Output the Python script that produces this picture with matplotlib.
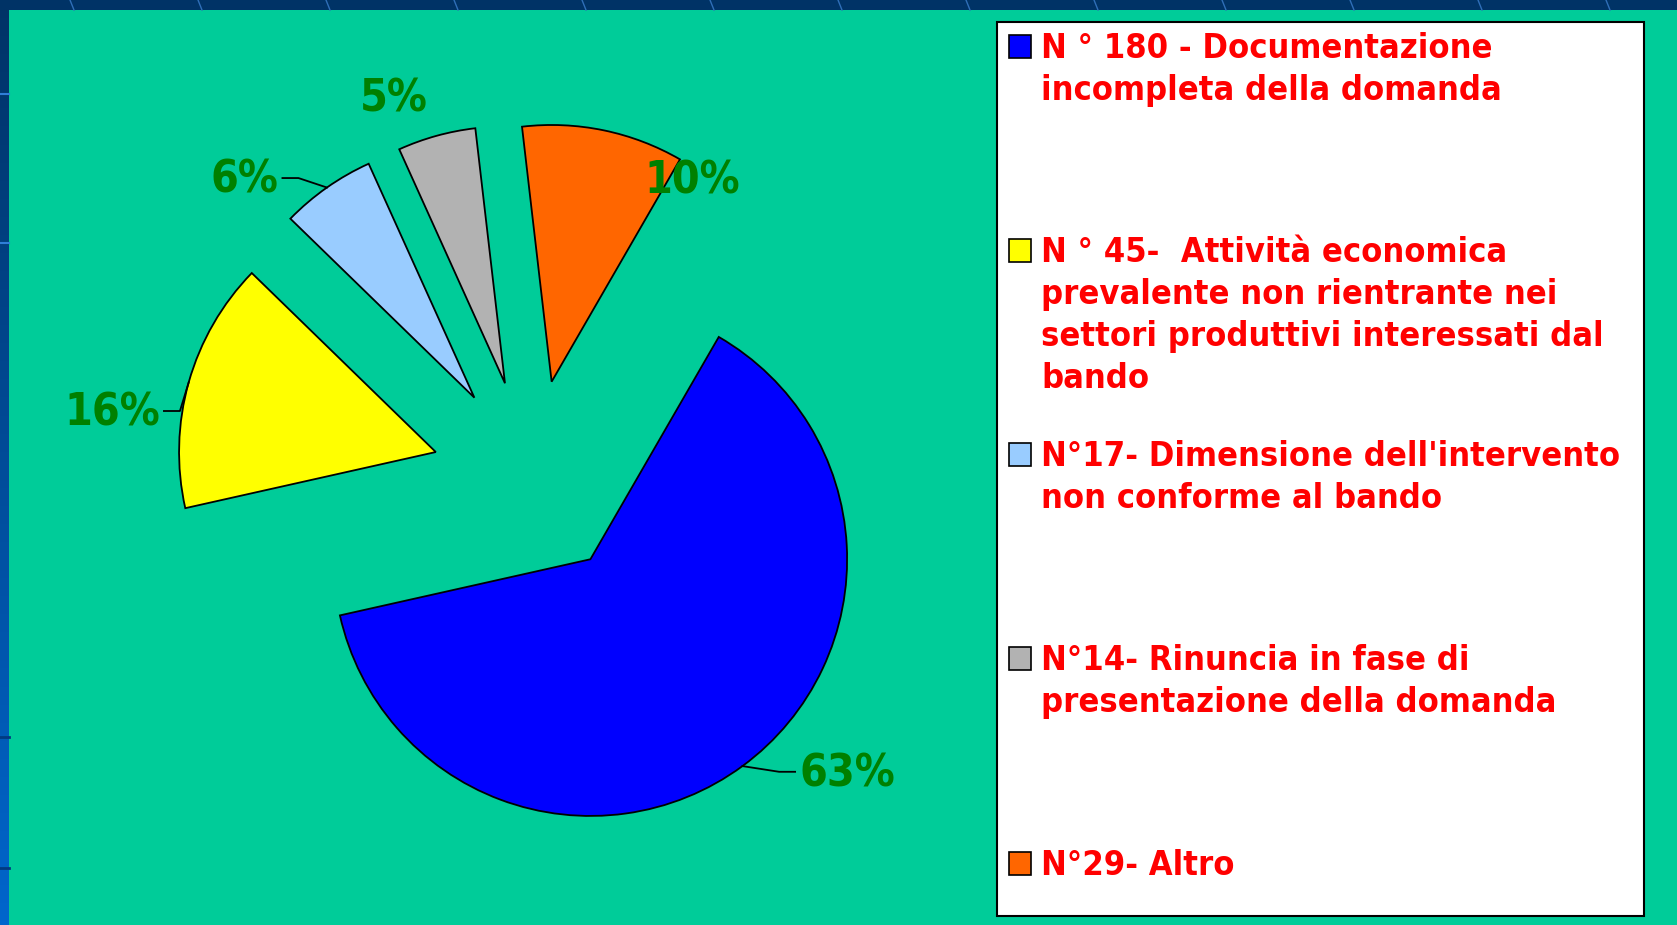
import numpy as np
import matplotlib.pyplot as plt
from matplotlib.patches import Rectangle
from matplotlib.colors import LinearSegmentedColormap

# dati
counts = [180, 45, 17, 14, 29]
colors = ['#0000ff', '#ffff00', '#99ccff', '#b2b2b2', '#ff6600']
legend_labels = [
    "N ° 180 - Documentazione\nincompleta della domanda",
    "N ° 45-  Attività economica\nprevalente non rientrante nei\nsettori produttivi interessati dal\nbando",
    "N°17- Dimensione dell'intervento\nnon conforme al bando",
    "N°14- Rinuncia in fase di\npresentazione della domanda",
    "N°29- Altro",
]

# layout (pixel / unità del raggio)
W, H = 1677, 925
R = 256.7
cx, cy = 531.5, H - 479.1
label_xy = [(1.229, -1.148), (-1.634, 0.2575), (-1.118, 1.165), (-0.537, 1.479), (0.627, 1.162)]
leader = [True, True, True, False, False]
font = dict(family=['DejaVu Sans'], fontstretch='condensed', fontweight='bold')

fig = plt.figure(figsize=(W / 100, H / 100), dpi=100)

# sfondo
bg = fig.add_axes([0, 0, 1, 1])
grad = np.linspace(0, 1, 256).reshape(-1, 1)
cmap = LinearSegmentedColormap.from_list('bg', ['#003366', '#0066cc'])
bg.imshow(grad, aspect='auto', cmap=cmap, extent=[0, W, 0, H], origin='upper')
for x0 in range(70, W, 128):
    bg.plot([x0, x0 + 4], [H, H - 10], color='#2f6fb8', lw=1)
for yt in [94, 243]:
    bg.plot([0, 9], [H - yt, H - yt], color='#2f7fd8', lw=1.5)
for yt in [737, 868]:
    bg.plot([0, 9], [H - yt, H - yt], color='#003a80', lw=2)
bg.add_patch(Rectangle((9, 0), W - 9, H - 10, fc='#00cc99', ec='none'))

# legenda
bg.add_patch(Rectangle((997, H - 916), 1644 - 997, 916 - 22, fc='white', ec='black', lw=1.5))
for i, (lab, col) in enumerate(zip(legend_labels, colors)):
    mc = 46.3 + i * 204.2
    bg.add_patch(Rectangle((1009, H - mc - 11.5), 22, 23, fc=col, ec='black', lw=1.2))
    for j, line in enumerate(lab.split('\n')):
        bg.text(1041, H - (mc + 11.5) - j * 42, line, color='#ff0000', fontsize=24.7,
                va='baseline', ha='left', **font)
bg.set_xlim(0, W)
bg.set_ylim(0, H)
bg.axis('off')

# torta
ax = fig.add_axes([0, 0, 1, 1])
wedges, _ = ax.pie(counts, colors=colors, startangle=60, counterclock=False,
                   explode=[0.3875] * len(counts),
                   wedgeprops=dict(edgecolor='black', linewidth=1.3))
ax.set_xlim(-cx / R, (W - cx) / R)
ax.set_ylim(-cy / R, (H - cy) / R)
ax.axis('off')

total = sum(counts)
texts = []
for c, (lx, ly) in zip(counts, label_xy):
    t = ax.text(lx, ly, f"{round(100 * c / total)}%", color='#008000', fontsize=32,
                ha='center', va='center', **font)
    texts.append(t)

fig.canvas.draw()
inv = ax.transData.inverted()
for w, t, has in zip(wedges, texts, leader):
    if not has:
        continue
    mid = np.deg2rad((w.theta1 + w.theta2) / 2)
    ax_, ay_ = w.center[0] + np.cos(mid), w.center[1] + np.sin(mid)
    bb = t.get_window_extent()
    (x0, y0), (x1, y1) = inv.transform([[bb.x0, bb.y0], [bb.x1, bb.y1]])
    yl = (y0 + y1) / 2 + 2 / R
    if t.get_position()[0] > ax_:
        xe = x0 - 4 / R
        xk = xe - 16 / R
    else:
        xe = x1 + 4 / R
        xk = xe + 16 / R
    ax.plot([ax_, xk, xe], [ay_, yl, yl], color='black', lw=1.3)

fig.savefig('out.png', dpi=100)
